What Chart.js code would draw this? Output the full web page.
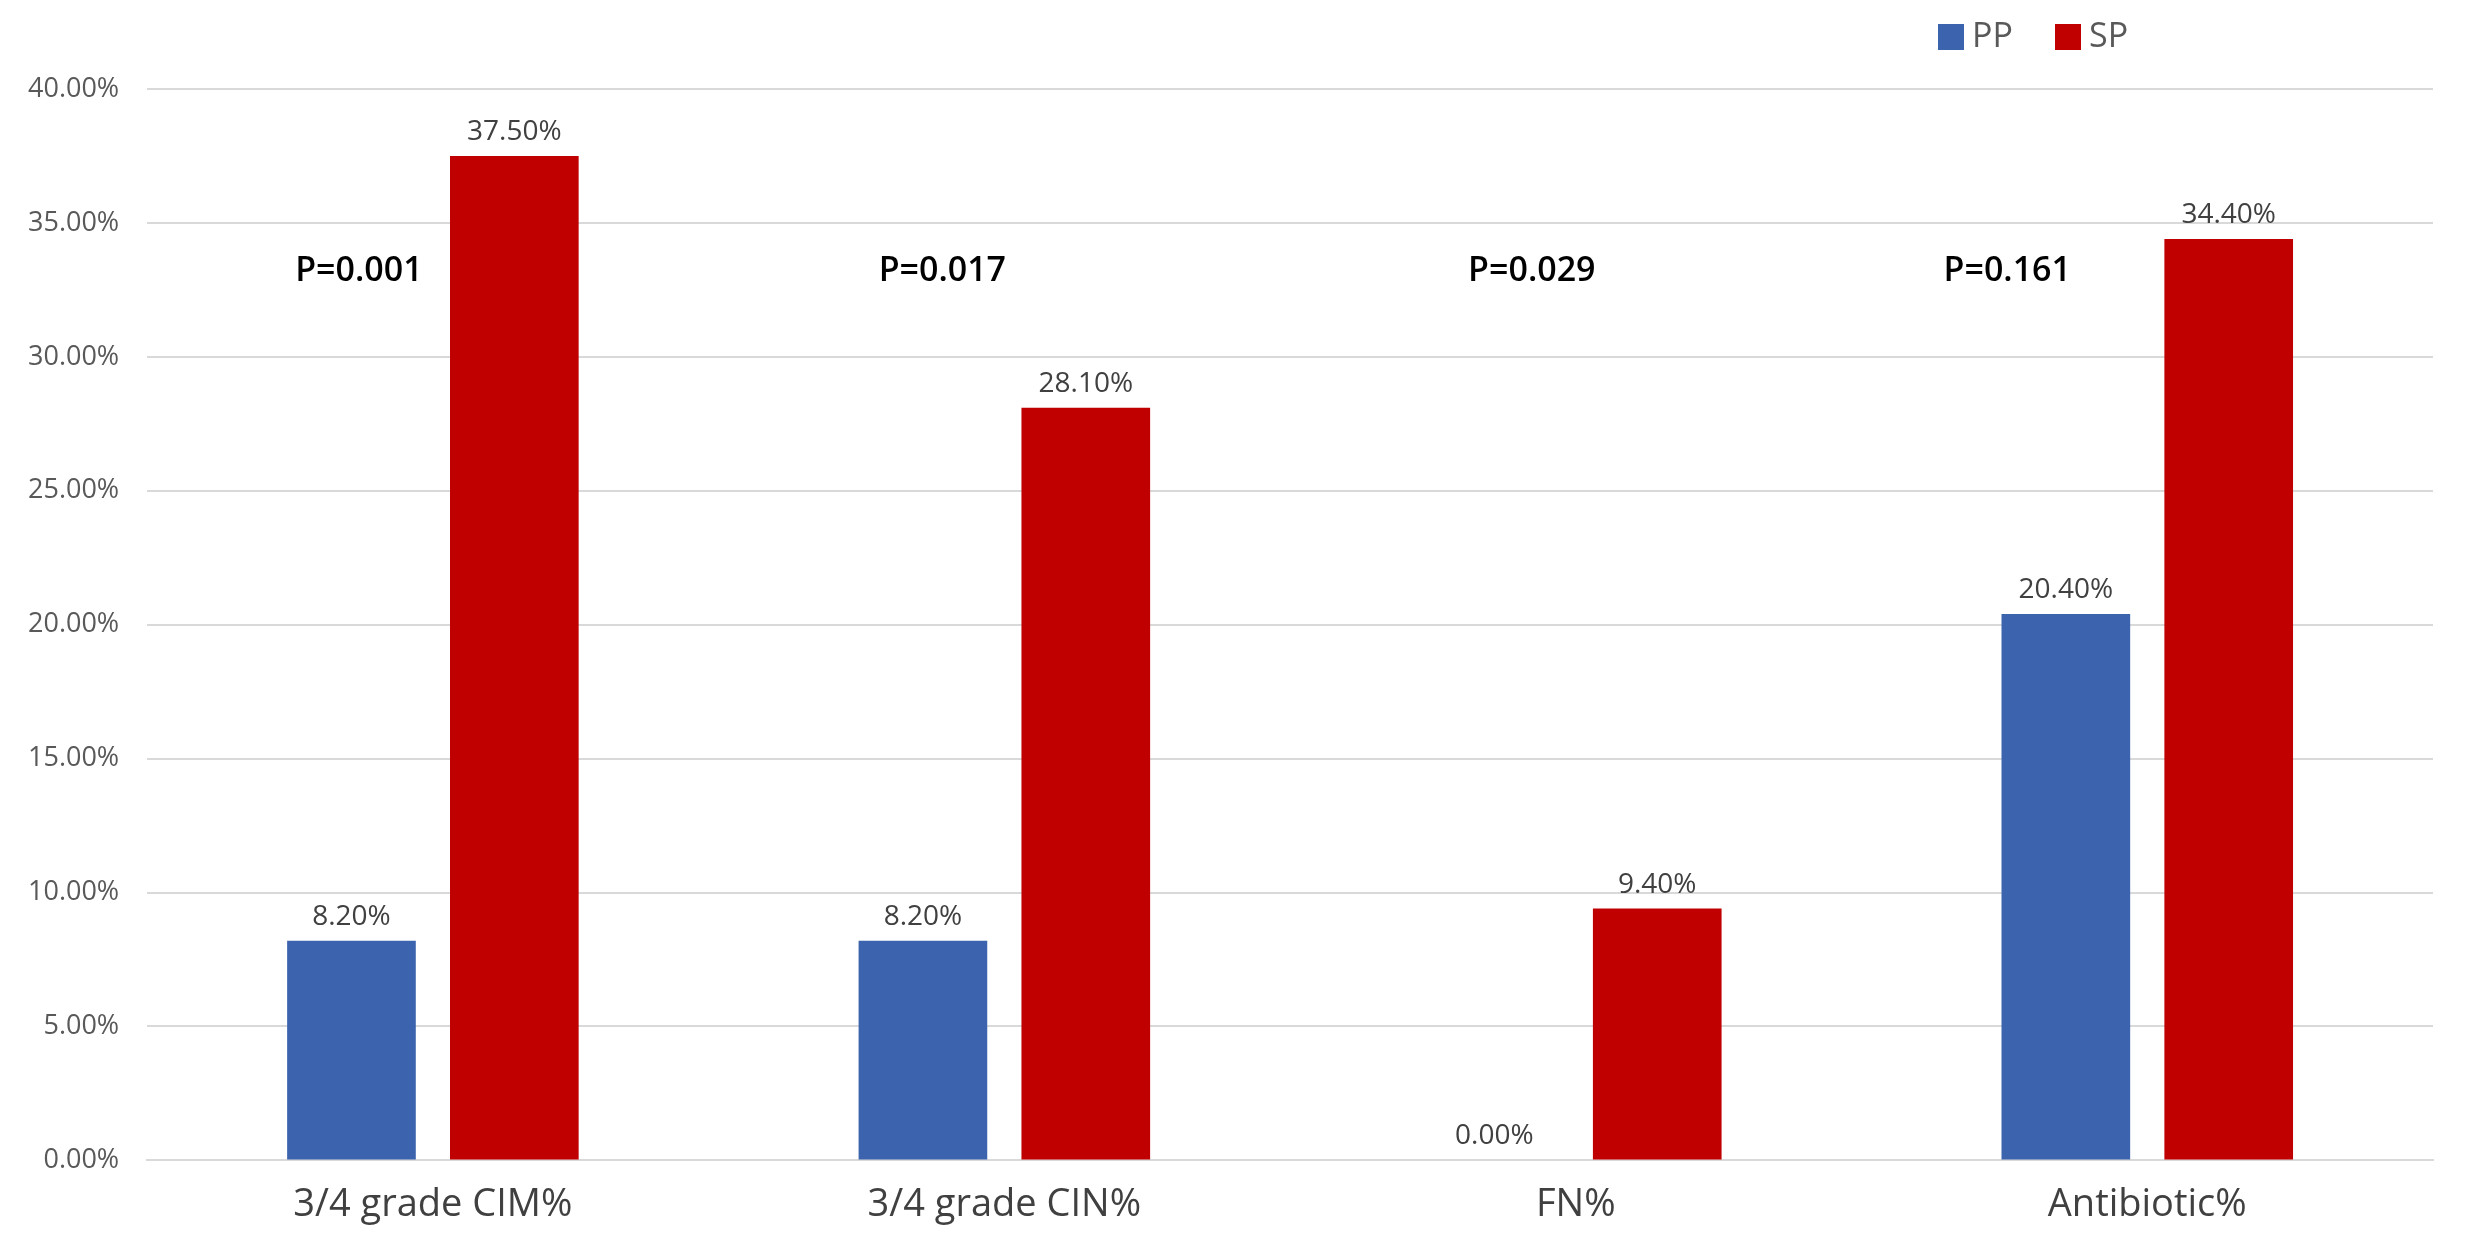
<!DOCTYPE html>
<html><head><meta charset="utf-8">
<script src="https://cdn.jsdelivr.net/npm/chart.js@4"></script>
<style>html,body{margin:0;padding:0;background:#fff}#w{width:2469px;height:1256px}</style>
</head><body><div id="w"><canvas id="c"></canvas></div>
<script>
const categories = ["3/4 grade CIM%", "3/4 grade CIN%", "FN%", "Antibiotic%"];
const ppValues = [8.2, 8.2, 0.0, 20.4];
const spValues = [37.5, 28.1, 9.4, 34.4];
const pLabels = ["P=0.001", "P=0.017", "P=0.029", "P=0.161"];
const pLabelLevel = 33.2;
const yTicksMax = 40, yStep = 5;
const FONT = '"Open Sans", "Liberation Sans", sans-serif';
const PP = '#3C64AE', SP = '#C00000';
const pOffsets = [-74, -62, -44, -140]; // px offset from category centre

const extras = {
  id: 'extras',
  afterDatasetsDraw(chart) {
    const ctx = chart.ctx, y = chart.scales.y, x = chart.scales.x;
    ctx.save();
    ctx.font = '28px ' + FONT; ctx.fillStyle = '#404040';
    ctx.textAlign = 'center'; ctx.textBaseline = 'bottom';
    chart.data.datasets.forEach((ds, i) => {
      chart.getDatasetMeta(i).data.forEach((bar, j) => {
        ctx.fillText(ds.data[j].toFixed(2) + '%', bar.x, bar.y - 10);
      });
    });
    ctx.font = '600 34px ' + FONT; ctx.fillStyle = '#000';
    ctx.textBaseline = 'middle';
    pLabels.forEach((t, j) => {
      ctx.fillText(t, x.getPixelForValue(j) + pOffsets[j], y.getPixelForValue(pLabelLevel));
    });
    ctx.font = '34px ' + FONT; ctx.textAlign = 'left';
    const ly = 37;
    ctx.fillStyle = PP; ctx.fillRect(1938, ly - 13, 26, 26);
    ctx.fillStyle = '#595959'; ctx.fillText('PP', 1972, ly);
    ctx.fillStyle = SP; ctx.fillRect(2055, ly - 13, 26, 26);
    ctx.fillStyle = '#595959'; ctx.fillText('SP', 2089, ly);
    ctx.restore();
  }
};

new Chart(document.getElementById('c'), {
  type: 'bar',
  data: {
    labels: categories,
    datasets: [
      { label: 'PP', data: ppValues, backgroundColor: PP, categoryPercentage: 0.57, barPercentage: 0.79 },
      { label: 'SP', data: spValues, backgroundColor: SP, categoryPercentage: 0.57, barPercentage: 0.79 }
    ]
  },
  options: {
    responsive: true, maintainAspectRatio: false, animation: false,
    layout: { padding: { top: 89, right: 36, left: 0, bottom: 14 } },
    plugins: { legend: { display: false }, tooltip: { enabled: false } },
    scales: {
      x: {
        grid: { display: false },
        border: { display: true, color: '#d9d9d9', width: 2 },
        ticks: { font: { size: 38, family: FONT }, color: '#404040', padding: 14 }
      },
      y: {
        min: 0, max: yTicksMax,
        border: { display: false },
        grid: { color: '#d9d9d9', lineWidth: 2, drawTicks: false },
        ticks: { stepSize: yStep, font: { size: 27, family: FONT }, color: '#595959', padding: 28,
          callback: v => v.toFixed(2) + '%' }
      }
    }
  },
  plugins: [extras]
});
</script></body></html>
